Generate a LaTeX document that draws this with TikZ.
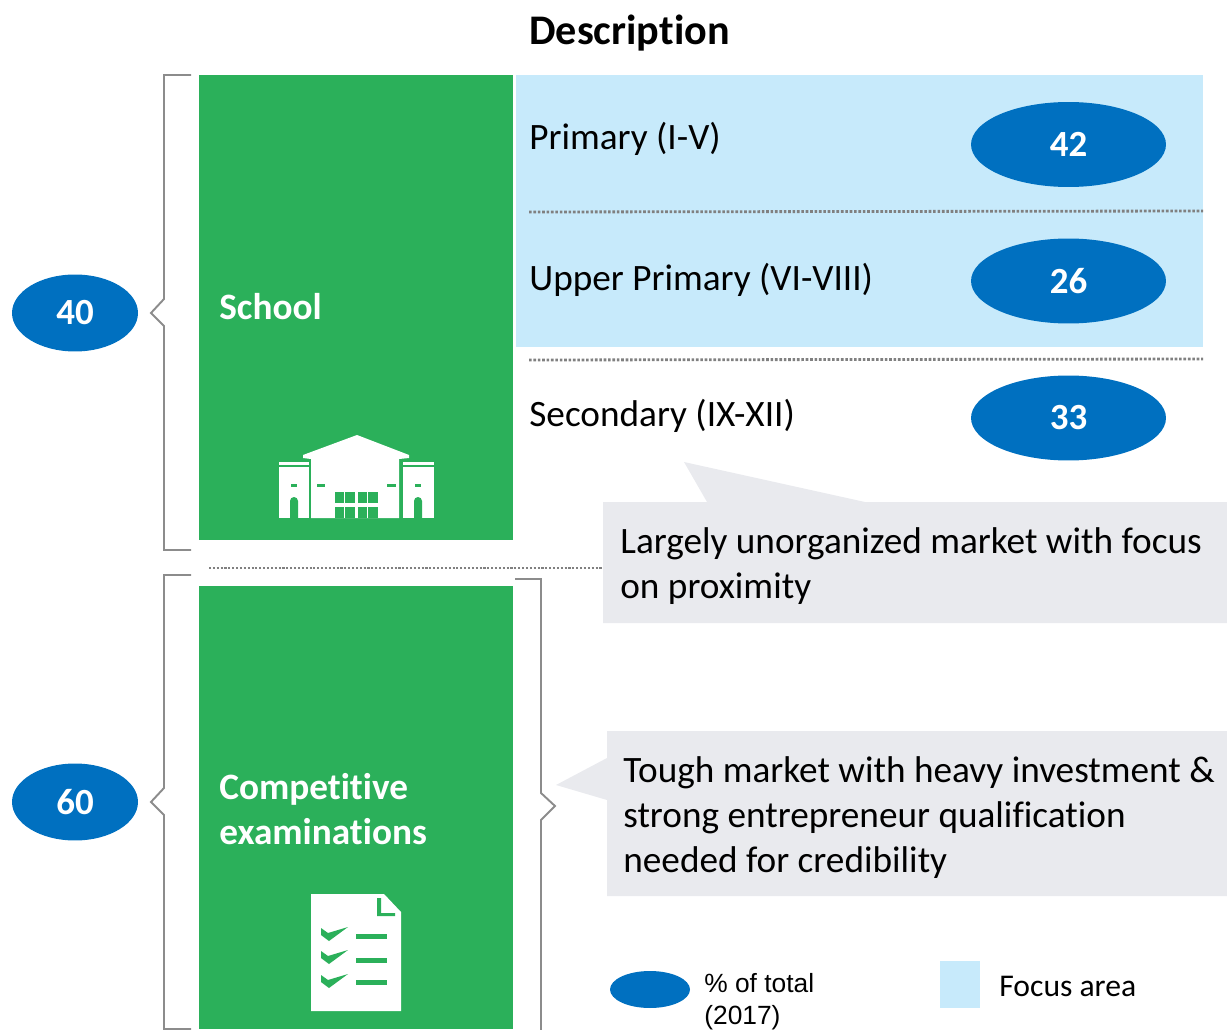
\documentclass[tikz,border=0pt]{standalone}
\usepackage{fontspec}
\setmainfont[Ligatures=NoCommon]{Carlito}
\newfontfamily\legendfont{Liberation Sans}
\usetikzlibrary{shapes.geometric}
\definecolor{schoolgreen}{HTML}{2BB05A}
\definecolor{sizeblue}{HTML}{0070C0}
\definecolor{focusblue}{HTML}{C7EAFB}
\definecolor{notegray}{HTML}{E9EAEE}
\definecolor{bracketgray}{HTML}{8C8C8C}
\newcommand{\bigfont}{\fontsize{21.2}{25.6}\selectfont}
\tikzset{
   sizeoval/.style={ellipse,fill=sizeblue,text=white,inner sep=0pt,font=\fontsize{21}{24}\selectfont\bfseries},
   bracket/.style={draw=bracketgray,line width=1.1pt},
   divider/.style={draw=gray,line width=1.6pt,dash pattern=on 1.5pt off 1pt},
   thindivider/.style={draw=gray,line width=1.1pt,dash pattern=on 1.2pt off 1pt},
   rowtext/.style={anchor=base west,inner sep=0pt,font=\bigfont},
   boxtext/.style={anchor=north west,inner sep=0pt,align=left,text=white,font=\bigfont\bfseries},
   notetext/.style={anchor=north west,inner sep=0pt,align=left,font=\bigfont},
}
\begin{document}
\begin{tikzpicture}[x=0.02cm,y=-0.02cm]
   \useasboundingbox (0,0) rectangle (1227,1030);
   % title
   \node [rowtext,font=\fontsize{24}{28}\selectfont\bfseries] (title) at (529,45) {Description};
   % background boxes
   \fill [focusblue] (516,75) rectangle (1203,347);
   \fill [schoolgreen] (199,75) rectangle (513,540);
   \fill [schoolgreen] (199,586) rectangle (513,1029);
   \draw [divider] (529,212)--(1203,211);
   \draw [divider] (529,360)--(1203,359);
   \draw [thindivider] (209,568)--(603,568);
   % rows
   \node [rowtext] (primary) at (529,150) {Primary (I-V)};
   \node [rowtext] (upper) at (529,291) {Upper Primary (VI-VIII)};
   \node [rowtext] (secondary) at (529,426) {Secondary (IX-XII)};
   \node [sizeoval,minimum width=3.9cm,minimum height=1.7cm] (p42) at (1068.5,144.5) {42};
   \node [sizeoval,minimum width=3.9cm,minimum height=1.7cm] (p26) at (1068.5,281) {26};
   \node [sizeoval,minimum width=3.9cm,minimum height=1.7cm] (p33) at (1068.5,418) {33};
   % left side
   \node [sizeoval,minimum width=2.52cm,minimum height=1.54cm] (p40) at (75,313) {40};
   \node [sizeoval,minimum width=2.52cm,minimum height=1.54cm] (p60) at (75,802) {60};
   \draw [bracket] (191,75)--(164,75)--(164,299)--(151,313)--(164,326)--(164,550)--(191,550);
   \draw [bracket] (191,575)--(164,575)--(164,788)--(151,802)--(164,815)--(164,1029)--(191,1029);
   \draw [bracket] (515,579)--(541,579)--(541,793)--(555,806)--(541,820)--(541,1030);
   \node [boxtext] (school) at (219,293) {School};
   \node [boxtext] (exams) at (219,773) {Competitive\\examinations};
   % school icon
   \fill [white] (303,455)--(357,435)--(409,455)--(409,458)--(399,459)--(399,518)--(311,518)--(311,459)--(303,458)--cycle;
   \foreach \xa/\xb in {279/309,403/434} {
      \fill [white] (\xa,462) rectangle (\xb,465);
      \fill [white] (\xa,467) rectangle (\xb,518);
   }
   \foreach \xa/\xb in {291/297,415/421,317/325,387/396}
      \fill [schoolgreen] (\xa,484) rectangle (\xb,487);
   \foreach \xa in {290,414}
      \fill [schoolgreen] (\xa,518)--(\xa,501) arc (180:360:4)--(\xa+8,518)--cycle;
   \foreach \xa/\xb in {335/344,345/355,358/367,368/378} {
      \fill [schoolgreen] (\xa,492) rectangle (\xb,503);
      \fill [schoolgreen] (\xa,507) rectangle (\xb,518);
   }
   % checklist icon
   \fill [white] (311,894)--(384,894)--(401,912)--(401,1011)--(311,1011)--cycle;
   \fill [schoolgreen] (377,898)--(381,898)--(381,913)--(395,913)--(395,916)--(377,916)--cycle;
   \foreach \dy/\yline in {0/934,23/958,47/980} {
      \fill [schoolgreen] (321,928+\dy)--(328,933+\dy)--(348,927+\dy)--(329,941+\dy)--(321,935+\dy)--cycle;
      \fill [schoolgreen] (356,\yline) rectangle (387,\yline+5);
   }
   % notes
   \fill [notegray] (603,502)--(707,502)--(684,462)--(865,502)--(1227,502)--(1227,623)--(603,623)--cycle;
   \fill [notegray] (607,731)--(1227,731)--(1227,896)--(607,896)--(607,800)--(556,785)--(607,758)--cycle;
   \node [notetext] (note1) at (620,527) {Largely unorganized market with focus\\on proximity};
   \node [notetext] (note2) at (623,756) {Tough market with heavy investment \&\\strong entrepreneur qualification\\needed for credibility};
   % legend
   \node [sizeoval,minimum width=1.6cm,minimum height=0.74cm] (legendoval) at (650,989.5) {};
   \node [anchor=north west,inner sep=0pt,align=left,font=\fontsize{15}{18}\selectfont\legendfont] (legendtext) at (704,973) {\% of total\\(2017)};
   \fill [focusblue] (940,961) rectangle (980,1008);
   \node [rowtext,font=\fontsize{18}{22}\selectfont] (legendfocus) at (999,996) {Focus area};
\end{tikzpicture}
\end{document}
